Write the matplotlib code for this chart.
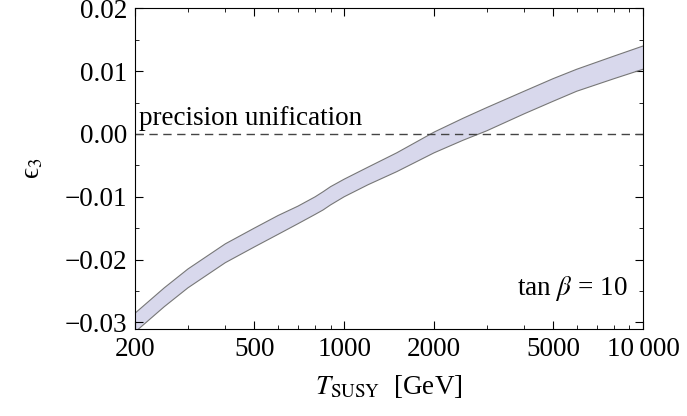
import matplotlib
matplotlib.use("Agg")
import matplotlib.pyplot as plt
from matplotlib.ticker import FixedLocator, NullFormatter

plt.rcParams['font.family'] = ['Liberation Serif', 'DejaVu Serif']
plt.rcParams['mathtext.fontset'] = 'stix'

# band of epsilon_3 vs T_SUSY
t_susy = [200, 250, 300, 400, 500, 600, 700, 800, 850, 900, 1000, 1200, 1500, 2000, 2500, 3000, 4000, 5000, 6000, 8000, 10000]
eps_upper = [-0.0285, -0.0245, -0.0215, -0.0175, -0.0150, -0.0130, -0.0115, -0.0100, -0.0092, -0.0084, -0.0072, -0.0053, -0.0030, 0.0003, 0.0025, 0.0042, 0.0068, 0.0088, 0.0103, 0.0124, 0.0140]
eps_lower = [-0.0315, -0.0275, -0.0245, -0.0205, -0.0180, -0.0160, -0.0143, -0.0128, -0.0121, -0.0113, -0.0100, -0.0081, -0.0060, -0.0030, -0.0010, 0.0005, 0.0032, 0.0052, 0.0068, 0.0088, 0.0103]

fig = plt.figure(figsize=(6.87, 4.16), dpi=100)
ax = fig.add_axes([0.197, 0.21, 0.739, 0.77])

ax.fill_between(t_susy, eps_lower, eps_upper, facecolor='#d8d8ec', edgecolor='none')
ax.plot(t_susy, eps_upper, color='#777777', lw=0.8)
ax.plot(t_susy, eps_lower, color='#777777', lw=0.8)
ax.axhline(0, color='#444444', lw=1, dashes=(6, 4))

ax.set_xscale('log')
ax.set_xlim(200, 10000)
ax.set_ylim(-0.031, 0.02)
ax.xaxis.set_major_locator(FixedLocator([200, 500, 1000, 2000, 5000, 10000]))
ax.xaxis.set_minor_locator(FixedLocator([300, 400, 600, 700, 800, 900, 3000, 4000, 6000, 7000, 8000, 9000]))
ax.xaxis.set_minor_formatter(NullFormatter())
ax.set_xticklabels(['200', '500', '1000', '2000', '5000', '10\u2009000'])
ax.set_yticks([-0.03, -0.02, -0.01, 0.0, 0.01, 0.02])
ax.set_yticklabels(['\u22120.03', '\u22120.02', '\u22120.01', '0.00', '0.01', '0.02'])
ax.yaxis.set_minor_locator(FixedLocator([-0.025, -0.015, -0.005, 0.005, 0.015]))
ax.tick_params(which='both', direction='in', top=True, right=True, labelsize=19.5, pad=6)
ax.tick_params(which='major', length=6)
ax.tick_params(which='minor', length=3)

ax.text(205, 0.0004, 'precision unification', fontsize=19.5, va='bottom')
ax.text(0.97, 0.08, r'tan $\beta$ = 10', fontsize=19.5, transform=ax.transAxes, ha='right', va='bottom')

ax.set_xlabel(r'$T_{\rm SUSY}$  [GeV]', fontsize=19.5, labelpad=8)
ax.set_ylabel('\u03f5$_3$', fontsize=19.5, labelpad=14)

plt.savefig('out.png')
